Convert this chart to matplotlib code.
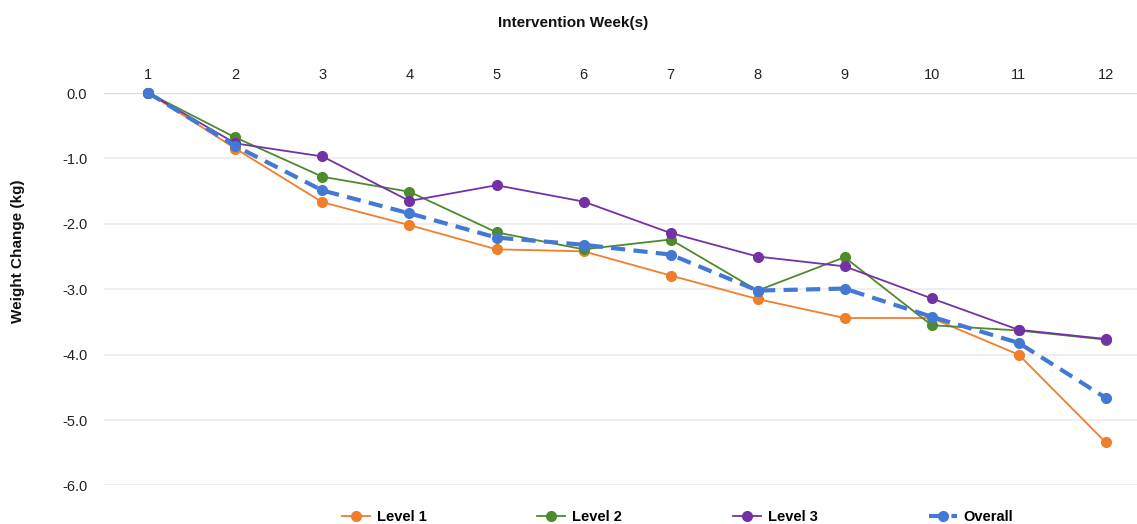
import matplotlib
matplotlib.use("Agg")
import matplotlib.pyplot as plt

plt.rcParams["font.family"] = ["Liberation Sans", "DejaVu Sans"]

weeks = [1, 2, 3, 4, 5, 6, 7, 8, 9, 10, 11, 12]
level1 = [0.0, -0.85, -1.67, -2.02, -2.39, -2.42, -2.79, -3.15, -3.44, -3.44, -4.00, -5.34]
level2 = [0.0, -0.68, -1.28, -1.51, -2.13, -2.39, -2.24, -3.02, -2.51, -3.55, -3.63, -3.77]
level3 = [0.0, -0.77, -0.97, -1.65, -1.41, -1.66, -2.14, -2.50, -2.65, -3.14, -3.62, -3.76]
overall = [0.0, -0.81, -1.49, -1.84, -2.21, -2.32, -2.47, -3.02, -2.99, -3.42, -3.82, -4.66]

y_ticks = [0, -1, -2, -3, -4, -5, -6]

fig = plt.figure(figsize=(11.37, 5.24), dpi=100)
ax = fig.add_axes([0.0915, 0.0735, 0.9085, 0.749])

ax.plot(weeks, level1, "-o", color="#F07E2B", lw=1.3, ms=7, label="Level 1", clip_on=False, zorder=3)
ax.plot(weeks, level2, "-o", color="#4F8A2C", lw=1.3, ms=7, label="Level 2", clip_on=False, zorder=3)
ax.plot(weeks, level3, "-o", color="#7232A6", lw=1.3, ms=7, label="Level 3", clip_on=False, zorder=3)
ax.plot(weeks, overall, "--o", color="#4379D2", lw=3.0, ms=7, dashes=(3.4, 2.0),
        label="Overall", clip_on=False, zorder=4)

ax.set_xlim(0.49, 12.36)
ax.set_ylim(-6, 0)
ax.set_xticks(weeks)
ax.set_xticklabels([str(w) for w in weeks])
ax.set_yticks(y_ticks)
ax.set_yticklabels([f"{v:.1f}" for v in y_ticks])
ax.xaxis.tick_top()
ax.tick_params(axis="both", length=0, labelsize=10.5, colors="#222222")
ax.tick_params(axis="x", pad=8)
ax.tick_params(axis="y", pad=12)

for s in ax.spines.values():
    s.set_visible(False)
ax.grid(axis="y", color="#EBEBEB", lw=1.2)
ax.axhline(0, color="#DCDCDC", lw=1.6, zorder=1)
ax.set_axisbelow(True)

fig.text(0.504, 0.956, "Intervention Week(s)", ha="center", va="center",
         fontsize=11, fontweight="bold", color="#111111")
fig.text(0.016, 0.52, "Weight Change (kg)", ha="center", va="center", rotation=90,
         fontsize=11, fontweight="bold", color="#111111")

fig.legend(loc="center", bbox_to_anchor=(0.596, 0.013), ncol=4, frameon=False,
           columnspacing=7.6, handlelength=1.9, handletextpad=0.5,
           prop={"weight": "bold", "size": 10.5})

fig.savefig("out.png", dpi=100)
